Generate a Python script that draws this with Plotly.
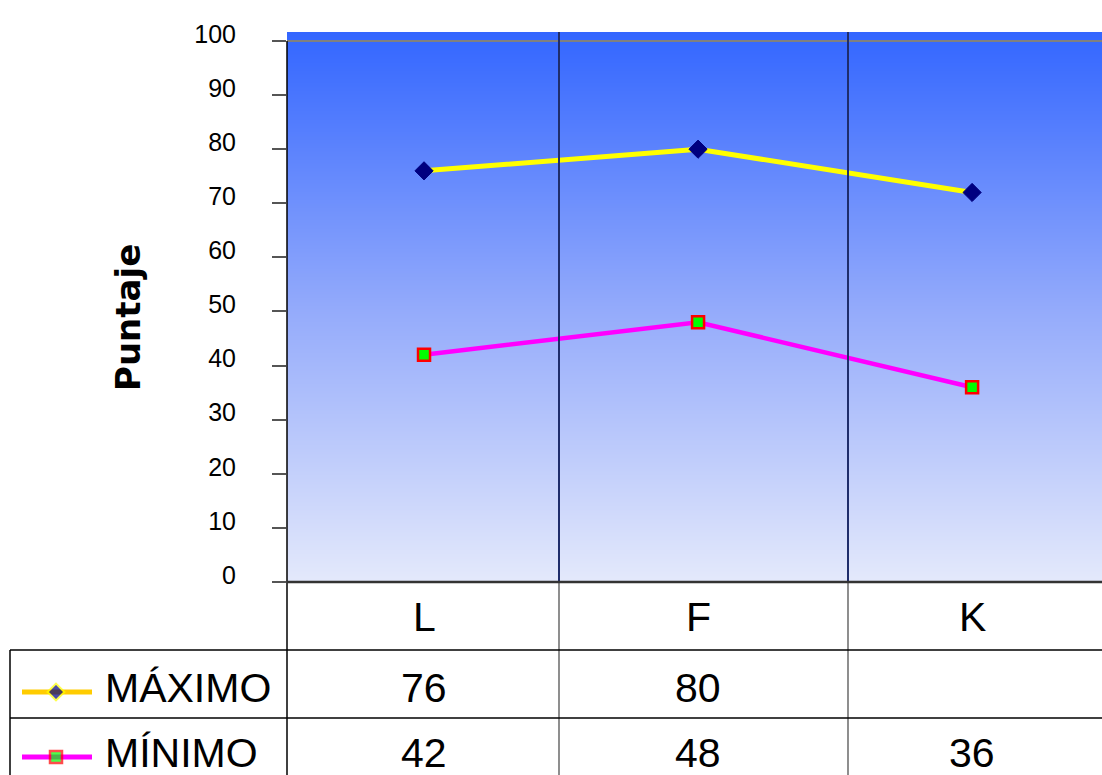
import plotly.graph_objects as go

# ---------------- data ----------------
categories = ["L", "F", "K"]
maximo = [76, 80, 72]
minimo = [42, 48, 36]
maximo_table = ["76", "80", ""]
minimo_table = ["42", "48", "36"]
series_names = ["MÁXIMO", "MÍNIMO"]
y_ticks = [0, 10, 20, 30, 40, 50, 60, 70, 80, 90, 100]
y_title = "Puntaje"

# ---------------- layout helpers ----------------
W, H = 1102, 775


def px(x):
    return x / W


def py(y):
    return 1 - y / H


PLOT_L, PLOT_T, PLOT_B = 287, 32, 582
x_range = [-0.5, 2.474]
y_range = [0, 101.66]
xs = list(range(len(categories)))

FONT = "Liberation Sans, Arial, sans-serif"

fig = go.Figure()

# gradient background via heatmap
n = 30
grad_y = [y_range[0] + (y_range[1] - y_range[0]) * i / n for i in range(n + 1)]
fig.add_trace(go.Heatmap(
    x=[x_range[0] - 0.2, x_range[1] + 0.2], y=grad_y,
    z=[[v, v] for v in grad_y],
    colorscale=[[0, "#E4E9FB"], [0.5, "#93AAFB"], [1, "#3366FF"]],
    zsmooth="best", showscale=False, hoverinfo="skip",
))

# data lines
fig.add_trace(go.Scatter(
    x=xs, y=maximo, name=series_names[0], mode="lines+markers",
    line=dict(color="#FFFF00", width=5),
    marker=dict(symbol="diamond", size=14, color="#000080",
                line=dict(color="#000080", width=1)),
    showlegend=False,
))
fig.add_trace(go.Scatter(
    x=xs, y=minimo, name=series_names[1], mode="lines+markers",
    line=dict(color="#FF00FF", width=4.5),
    marker=dict(symbol="square", size=12, color="#00FF00",
                line=dict(color="#FF0000", width=2.5)),
    showlegend=False,
))

# legend keys inside the table (overlay axes in figure coords)
fig.add_trace(go.Scatter(
    x=[px(22), px(56), px(92)], y=[py(692)] * 3, mode="lines+markers",
    line=dict(color="#FFCC00", width=5),
    marker=dict(symbol="diamond", size=[0, 13, 0], color="#000080",
                line=dict(color="#FFFF00", width=2)),
    xaxis="x2", yaxis="y2", showlegend=False, hoverinfo="skip",
))
fig.add_trace(go.Scatter(
    x=[px(22), px(56), px(92)], y=[py(757)] * 3, mode="lines+markers",
    line=dict(color="#FF00FF", width=5),
    marker=dict(symbol="square", size=[0, 12, 0], color="#00FF00",
                line=dict(color="#FF0000", width=2.5)),
    xaxis="x2", yaxis="y2", showlegend=False, hoverinfo="skip",
))

shapes = []
# 100 line (top border)
shapes.append(dict(type="line", xref="paper", yref="y", x0=px(PLOT_L), x1=1,
                   y0=100, y1=100, line=dict(color="#808080", width=2)))
# category separators
for sx in (559, 848):
    shapes.append(dict(type="line", xref="paper", yref="paper", x0=px(sx), x1=px(sx),
                       y0=py(PLOT_B), y1=py(PLOT_T), line=dict(color="#1F2D6B", width=2)))
    shapes.append(dict(type="line", xref="paper", yref="paper", x0=px(sx), x1=px(sx),
                       y0=0, y1=py(PLOT_B), line=dict(color="#444444", width=1.2)))
# y axis line
shapes.append(dict(type="line", xref="paper", yref="paper", x0=px(PLOT_L), x1=px(PLOT_L),
                   y0=0, y1=py(41), line=dict(color="#000000", width=1.5)))
# x axis line
shapes.append(dict(type="line", xref="paper", yref="paper", x0=px(PLOT_L), x1=1,
                   y0=py(PLOT_B), y1=py(PLOT_B), line=dict(color="#333333", width=2.5)))
# table horizontal lines
for ty in (650, 718):
    shapes.append(dict(type="line", xref="paper", yref="paper", x0=px(10), x1=1,
                       y0=py(ty), y1=py(ty), line=dict(color="#000000", width=1.5)))
# table left border
shapes.append(dict(type="line", xref="paper", yref="paper", x0=px(10), x1=px(10),
                   y0=0, y1=py(650), line=dict(color="#000000", width=1.5)))

annotations = []
big = dict(family=FONT, size=41, color="#000000")
for i, c in enumerate(categories):
    annotations.append(dict(x=xs[i], y=py(617), xref="x", yref="paper", text=c,
                            showarrow=False, font=big, xanchor="center", yanchor="middle"))
    annotations.append(dict(x=xs[i], y=py(688), xref="x", yref="paper", text=maximo_table[i],
                            showarrow=False, font=big, xanchor="center", yanchor="middle"))
    annotations.append(dict(x=xs[i], y=py(753), xref="x", yref="paper", text=minimo_table[i],
                            showarrow=False, font=big, xanchor="center", yanchor="middle"))
annotations.append(dict(x=px(103), y=py(688), xref="paper", yref="paper", text=series_names[0],
                        showarrow=False, font=big, xanchor="left", yanchor="middle"))
annotations.append(dict(x=px(103), y=py(753), xref="paper", yref="paper", text=series_names[1],
                        showarrow=False, font=big, xanchor="left", yanchor="middle"))
annotations.append(dict(x=px(128), y=py(318), xref="paper", yref="paper", text="<b>" + y_title + "</b>",
                        textangle=-90, showarrow=False,
                        font=dict(family="DejaVu Sans, sans-serif", size=34, color="#000000"),
                        xanchor="center", yanchor="middle"))

fig.update_layout(
    width=W, height=H,
    autosize=False,
    margin=dict(l=0, r=0, t=0, b=0, pad=0, autoexpand=False),
    paper_bgcolor="#FFFFFF",
    plot_bgcolor="rgba(0,0,0,0)",
    xaxis=dict(domain=[px(PLOT_L), 1], range=x_range, showticklabels=False, ticks="",
               showgrid=False, zeroline=False, showline=False, fixedrange=True,
               automargin=False),
    yaxis=dict(domain=[py(PLOT_B), py(PLOT_T)], range=y_range, tickvals=y_ticks,
               ticks="outside", ticklen=14, tickwidth=1.5, tickcolor="#555555",
               tickfont=dict(family=FONT, size=25, color="#000000"),
               ticklabelstandoff=31, ticklabelshift=-7,
               showgrid=False, zeroline=False, showline=False, fixedrange=True,
               automargin=False),
    xaxis2=dict(domain=[0, 1], range=[0, 1], visible=False, anchor="y2", fixedrange=True,
                automargin=False),
    yaxis2=dict(domain=[0, 1], range=[0, 1], visible=False, anchor="x2", fixedrange=True,
                automargin=False),
    shapes=shapes,
    annotations=annotations,
    showlegend=False,
)

fig.write_html(
    "out.html",
    config={"displayModeBar": False},
    post_script="document.body.style.margin='0';document.body.style.overflow='hidden';",
)
